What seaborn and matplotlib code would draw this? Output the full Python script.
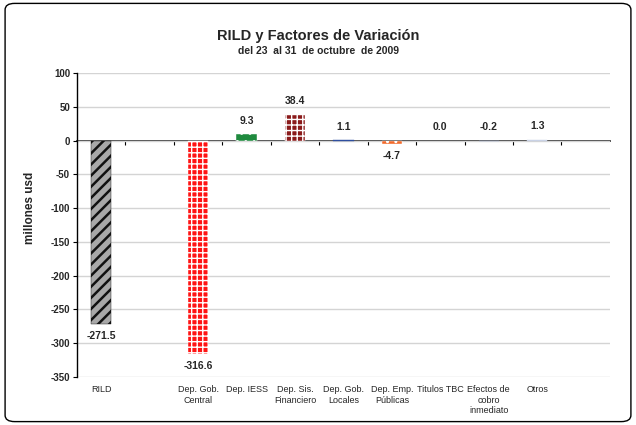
import matplotlib
matplotlib.use('Agg')
import matplotlib.pyplot as plt
import seaborn as sns
import pandas as pd
from matplotlib.patches import FancyBboxPatch

# datos
categorias = ['RILD', ' ', 'Dep. Gob.\nCentral', 'Dep. IESS', 'Dep. Sis.\nFinanciero',
              'Dep. Gob.\nLocales', 'Dep. Emp.\nPúblicas', 'Titulos TBC',
              'Efectos de\ncobro\ninmediato', 'Otros', '  ']
valores = [-271.5, 0, -316.6, 9.3, 38.4, 1.1, -4.7, 0.0, -0.2, 1.3, 0]
mostrar = [True, False, True, True, True, True, True, True, True, True, False]

colores = ['#a8a8a8', 'white', '#ff1414', '#1f8a3e', '#8a1a1a', '#2f4f9f',
           '#f26a2a', 'white', '#9fb2dc', '#c9d2e6', 'white']
bordes = ['#111111', 'none', 'white', 'white', 'white', '#2f4f9f',
          'white', 'none', '#9fb2dc', '#c9d2e6', 'none']
tramas = ['///', '', '+++', '..', '+++', '', '..', '', '', '', '']
grosor_trama = [1.8, 1, 1, 1, 1, 1, 1, 1, 1, 1, 1]

df = pd.DataFrame({'cat': categorias, 'val': valores})

sns.set_theme(style='white')
plt.rcParams['font.family'] = ['Liberation Sans', 'DejaVu Sans']
plt.rcParams['axes.unicode_minus'] = False
plt.rcParams['hatch.linewidth'] = 1.0

fig = plt.figure(figsize=(6.36, 4.25), dpi=100)
ax = fig.add_axes([0.121, 0.113, 0.838, 0.715])

sns.barplot(data=df, x='cat', y='val', order=categorias, width=0.42,
            color='gray', ax=ax, errorbar=None)

for p, fc, ec, h, hw in zip(ax.patches, colores, bordes, tramas, grosor_trama):
    p.set_facecolor(fc)
    p.set_edgecolor(ec)
    p.set_hatch(h)
    if hasattr(p, 'set_hatch_linewidth'):
        p.set_hatch_linewidth(hw)
    p.set_linewidth(0.3 if ec != 'none' else 0)

# etiquetas de valores
for i, (v, m) in enumerate(zip(valores, mostrar)):
    if not m:
        continue
    if v < -1:
        ax.annotate(f'{v:.1f}', (i, v), xytext=(0, -5), textcoords='offset points',
                    ha='center', va='top', fontsize=7.5, fontweight='bold')
    else:
        ax.annotate(f'{v:.1f}', (i, max(v, 0)), xytext=(0, 6), textcoords='offset points',
                    ha='center', va='bottom', fontsize=7.5, fontweight='bold')

ax.set_ylim(-350, 100)
ax.set_xlim(-0.5, len(categorias) - 0.5)
ax.set_yticks(range(-350, 101, 50))
ax.grid(axis='y', color='#d4d4d4', linewidth=1)
ax.set_axisbelow(True)

ax.spines['top'].set_visible(False)
ax.spines['right'].set_visible(False)
ax.spines['bottom'].set_visible(False)
ax.spines['left'].set_color('black')
ax.spines['left'].set_linewidth(1)

ax.tick_params(axis='y', which='major', left=True, length=3, width=0.8,
               color='black', labelsize=7, pad=2)
for t in ax.get_yticklabels():
    t.set_fontweight('bold')
ax.tick_params(axis='x', length=0, labelsize=6.5, pad=6)
ax.set_xlabel('')
ax.set_ylabel('millones usd', fontsize=8.5, fontweight='bold')
ax.yaxis.set_label_coords(-0.076, 0.556)

# eje en el cero con marcas entre categorias
eje0 = ax.secondary_xaxis(350 / 450)
eje0.spines['bottom'].set_color('black')
eje0.spines['bottom'].set_linewidth(1.2)
eje0.set_xticks([i + 0.5 for i in range(len(categorias) - 1)])
eje0.tick_params(axis='x', direction='out', length=3, width=0.8, color='black',
                 labelbottom=False, labeltop=False, bottom=True, top=False)

fig.text(0.5, 0.915, 'RILD y Factores de Variación', ha='center', va='center',
         fontsize=10.5, fontweight='bold')
fig.text(0.5, 0.879, 'del 23  al 31  de octubre  de 2009', ha='center', va='center',
         fontsize=7.5, fontweight='bold')

borde = FancyBboxPatch((0.008, 0.008), 0.984, 0.984, boxstyle='round,pad=0,rounding_size=0.015',
                       transform=fig.transFigure, fill=False, edgecolor='black',
                       linewidth=1, zorder=0)
fig.patches.append(borde)

fig.savefig('out.png', dpi=100)
